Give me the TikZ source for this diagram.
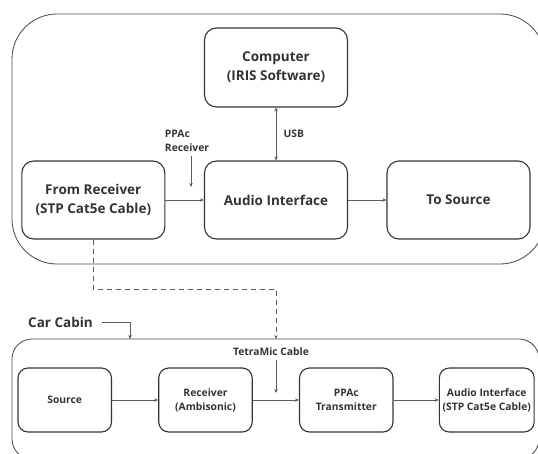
\documentclass[tikz,border=0pt]{standalone}
\usepackage{fontspec}
\setmainfont{Open Sans}
\usetikzlibrary{arrows.meta,positioning}
\definecolor{ink}{HTML}{333333}

\begin{document}
\begin{tikzpicture}[x=1pt, y=-1pt, >={Stealth[length=4pt,width=3.5pt]},
  box/.style={draw=ink, line width=1.1pt, rounded corners=12pt, align=center,
    text=ink, font=\bfseries\fontsize{13.5}{19}\selectfont},
  smallbox/.style={box, rounded corners=10pt, font=\bfseries\fontsize{10.3}{14}\selectfont},
  lbl/.style={text=ink, align=center, font=\bfseries\fontsize{10.3}{14}\selectfont},
  wire/.style={draw=ink!80, line width=0.7pt}]
\useasboundingbox (0,0) rectangle (538,453);
\clip (0,0) rectangle (538,453);
%the two areas
\draw[draw=ink!90, line width=0.8pt, rounded corners=45pt] (12,14) rectangle (545,264);
\draw[draw=ink!90, line width=0.8pt, rounded corners=20pt] (12,339) rectangle (539,459);

%top row
\node[box, minimum width=143pt, minimum height=79pt] (comp) at (276,67.5) {Computer\\(IRIS Software)};
\node[box, minimum width=143pt, minimum height=78pt] (audio) at (276,200) {Audio Interface};
\node[box, minimum width=143pt, minimum height=78pt] (fromrx) at (93.3,200) {From Receiver\\(STP Cat5e Cable)};
\node[box, minimum width=143pt, minimum height=78pt] (tosrc) at (458.5,200) {To Source};

\draw[wire, <->] (comp.south) -- (audio.north) node[lbl, midway, right=4pt] {USB};
\draw[wire, ->] (fromrx.east) -- (audio.west);
\draw[wire, ->] (audio.east) -- (tosrc.west);
\coordinate (ppactop) at (191,156);
\coordinate (ppacend) at (191,187);
\node[lbl, align=left, above=1pt of ppactop, xshift=-4pt] (ppaclbl) {PPAc\\Receiver};
\draw[wire, ->] (ppactop) -- (ppacend);

%cable down to the cabin
\coordinate (bend1) at (93.3,289);
\coordinate (bend2) at (276,289);
\coordinate (cabintop) at (276,339);
\draw[wire, dashed, dash pattern=on 5pt off 4pt, ->] (fromrx.south) -- (bend1) -- (bend2) -- (cabintop);

%car cabin
\node[text=ink, font=\bfseries\fontsize{13.5}{16}\selectfont] (cabin) at (60.5,322) {Car Cabin};
\coordinate (cabinstart) at (102,322);
\coordinate (cabinend) at (130,339);
\draw[wire, ->] (cabinstart) -| (cabinend);

%bottom row
\node[smallbox, minimum width=93.5pt, minimum height=64pt] (src) at (64.75,400) {Source};
\node[smallbox, minimum width=93.5pt, minimum height=64pt] (rx) at (205.5,400) {Receiver\\(Ambisonic)};
\node[smallbox, minimum width=93.5pt, minimum height=64pt] (tx) at (346.25,400) {PPAc\\Transmitter};
\node[smallbox, minimum width=93.5pt, minimum height=64pt] (ai) at (486.75,400) {Audio Interface\\(STP Cat5e Cable)};

\draw[wire, ->] (src.east) -- (rx.west);
\draw[wire, ->] (rx.east) -- (tx.west);
\draw[wire, ->] (tx.east) -- (ai.west);
\coordinate (tetratop) at (276,360);
\coordinate (tetraend) at (276,393);
\node[lbl, above=1pt of tetratop, xshift=-5pt] (tetralbl) {TetraMic Cable};
\draw[wire, ->] (tetratop) -- (tetraend);
\end{tikzpicture}
\end{document}
